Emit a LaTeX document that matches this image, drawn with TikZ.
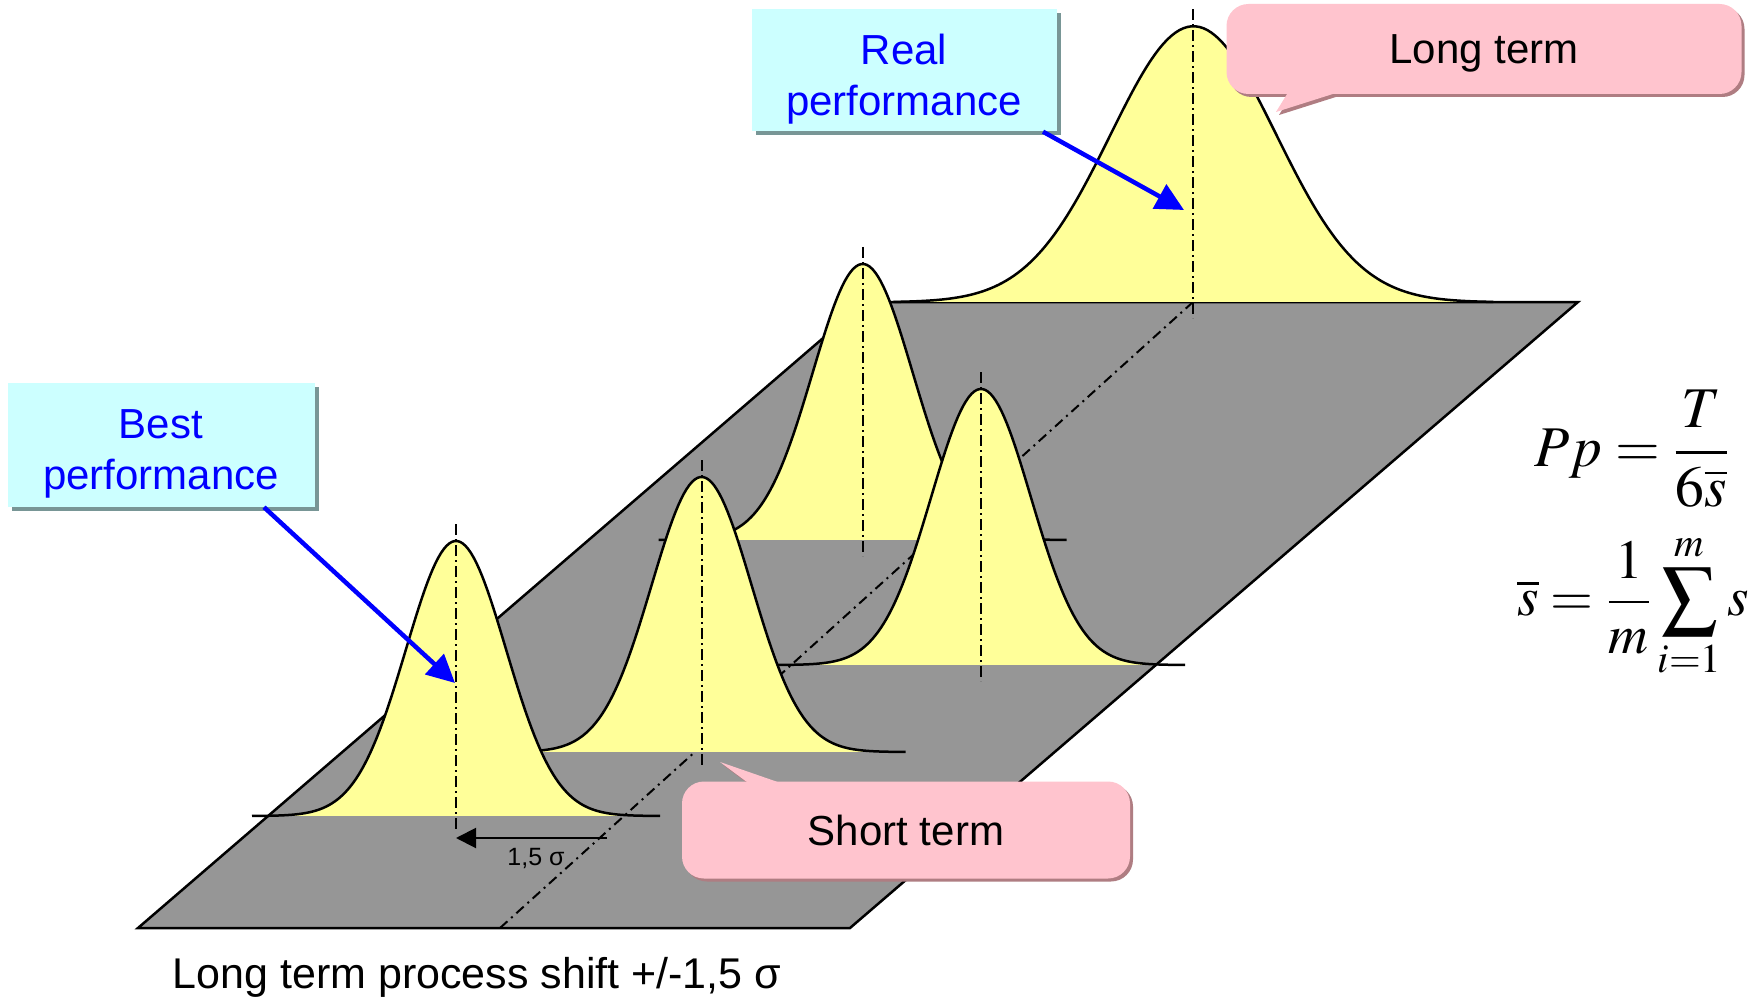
\documentclass[tikz,border=0pt]{standalone}
\usepackage{mathptmx}
\usepackage[no-math]{fontspec}
\setmainfont{Liberation Sans}
\usetikzlibrary{arrows.meta,shadows,calc}
\definecolor{floorgray}{RGB}{150,150,150}
\definecolor{curvefill}{RGB}{255,255,153}
\definecolor{boxcyan}{RGB}{204,255,255}
\definecolor{boxshadow}{RGB}{120,150,150}
\definecolor{calloutpink}{RGB}{255,196,206}
\definecolor{pinkshadow}{RGB}{175,125,130}
\definecolor{textblue}{RGB}{0,0,255}
\newcommand{\gcurve}[5]{%
  \fill[curvefill] plot[domain=-#5:#5,samples=150] ({#1+(\x)},{#2-#3*exp(-0.5*((\x)/#4)*((\x)/#4))}) -- cycle;
  \draw[curveline] plot[domain=-#5:#5,samples=150] ({#1+(\x)},{#2-#3*exp(-0.5*((\x)/#4)*((\x)/#4))});
  \draw[axisline] (#1,{#2-#3-17}) -- (#1,{#2+16});
}
\begin{document}
\begin{tikzpicture}[x=1pt,y=-1pt,
  floor/.style={fill=floorgray,draw=black,line width=2.5pt,line join=miter},
  curveline/.style={draw=black,line width=2.5pt,line join=round},
  axisline/.style={black,line width=2pt,dash pattern=on 11pt off 4pt on 2pt off 4pt},
  diagline/.style={black,line width=2pt,dash pattern=on 10pt off 5pt on 2pt off 5pt},
  infobox/.style={fill=boxcyan,text=textblue,align=center,inner sep=0pt,font=\fontsize{42}{51}\selectfont,drop shadow={shadow xshift=4pt,shadow yshift=-4pt,fill=boxshadow,opacity=1}},
  callout/.style={fill=calloutpink,rounded corners=22pt,inner sep=0pt,text height=30pt,text depth=0pt,font=\fontsize{42}{50}\selectfont,drop shadow={shadow xshift=3pt,shadow yshift=-3pt,fill=pinkshadow,opacity=1}},
  bluearrow/.style={draw=textblue,line width=4.5pt,-{Triangle[length=28pt,width=27pt]}},
  shiftarrow/.style={draw=black,line width=2pt,-{Triangle[length=20pt,width=20pt]}},
  mathtext/.style={inner sep=0pt,font=\fontsize{24}{29}\selectfont},
]
\useasboundingbox (0,0) rectangle (1749,1003);
\fill[white] (0,0) rectangle (1749,1003);

% floor
\coordinate (fBL) at (138,928);
\coordinate (fBR) at (850,928);
\coordinate (fTR) at (1578,302);
\coordinate (fTL) at (865,302);
\draw[floor] (fBL) -- (fBR) -- (fTR) -- (fTL) -- cycle;

% diagonal shift line
\coordinate (dBot) at (500,928);
\coordinate (dTop) at (1193,302);
\draw[diagline] (dBot) -- (dTop);

% curves (back to front)
\gcurve{1193.4}{302.3}{276}{83}{300}
\gcurve{862.7}{540}{276}{50}{204}
\gcurve{981}{665}{276}{50}{204}
\gcurve{701.6}{752}{275}{50}{204}
\gcurve{456}{816}{275}{50}{204}

% shift arrow
\coordinate (sStart) at (607,838);
\coordinate (sEnd) at (456,838);
\draw[shiftarrow] (sStart) -- (sEnd);
\node[inner sep=0pt,font=\fontsize{25}{30}\selectfont] (shiftlbl) at (536,858) {1,5 σ};

% blue arrows and boxes
\coordinate (bestTip) at (455,683);
\coordinate (realTip) at (1184,210);
\node[infobox,minimum width=307pt,minimum height=124pt] (bestbox) at (161,445) {\rule{0pt}{46pt}Best\\performance};
\node[infobox,minimum width=305pt,minimum height=122pt] (realbox) at (904,70.5) {\rule{0pt}{47pt}Real\\performance};
\draw[bluearrow] ($(bestbox.south)+(103,0)$) -- (bestTip);
\draw[bluearrow] ($(realbox.south)+(139,0)$) -- (realTip);

% long term callout
\coordinate (ltTip) at (1276,112);
\coordinate (ltA) at (1292,86);
\coordinate (ltB) at (1358,86);
\fill[pinkshadow] ([shift={(3,3)}]ltA) -- ([shift={(3,3)}]ltTip) -- ([shift={(3,3)}]ltB) -- cycle;
\node[callout,minimum width=515pt,minimum height=90pt] (longterm) at (1484,49) {Long term};
\fill[calloutpink] (ltA) -- (ltTip) -- (ltB) -- cycle;

% short term callout
\coordinate (stTip) at (720,762);
\coordinate (stA) at (755,788);
\coordinate (stB) at (795,788);
\fill[pinkshadow] ([shift={(3,3)}]stA) -- ([shift={(3,3)}]stTip) -- ([shift={(3,3)}]stB) -- cycle;
\node[callout,minimum width=448pt,minimum height=97pt] (shortterm) at (906,830) {Short term};
\fill[calloutpink] (stA) -- (stTip) -- (stB) -- cycle;

% formulas
\node[mathtext] (ppform) at (1632,449) {\scalebox{2.4}{$\displaystyle Pp=\frac{T}{6\overline{s}}$}};
\node[mathtext] (sform) at (1633,606) {\scalebox{2.3}{$\displaystyle \overline{s}=\frac{1}{m}\sum_{i=1}^{m} s$}};

% bottom caption
\node[inner sep=0pt,font=\fontsize{43}{50}\selectfont] (caption) at (477,977) {Long term process shift +/-1,5 σ};
\end{tikzpicture}
\end{document}
